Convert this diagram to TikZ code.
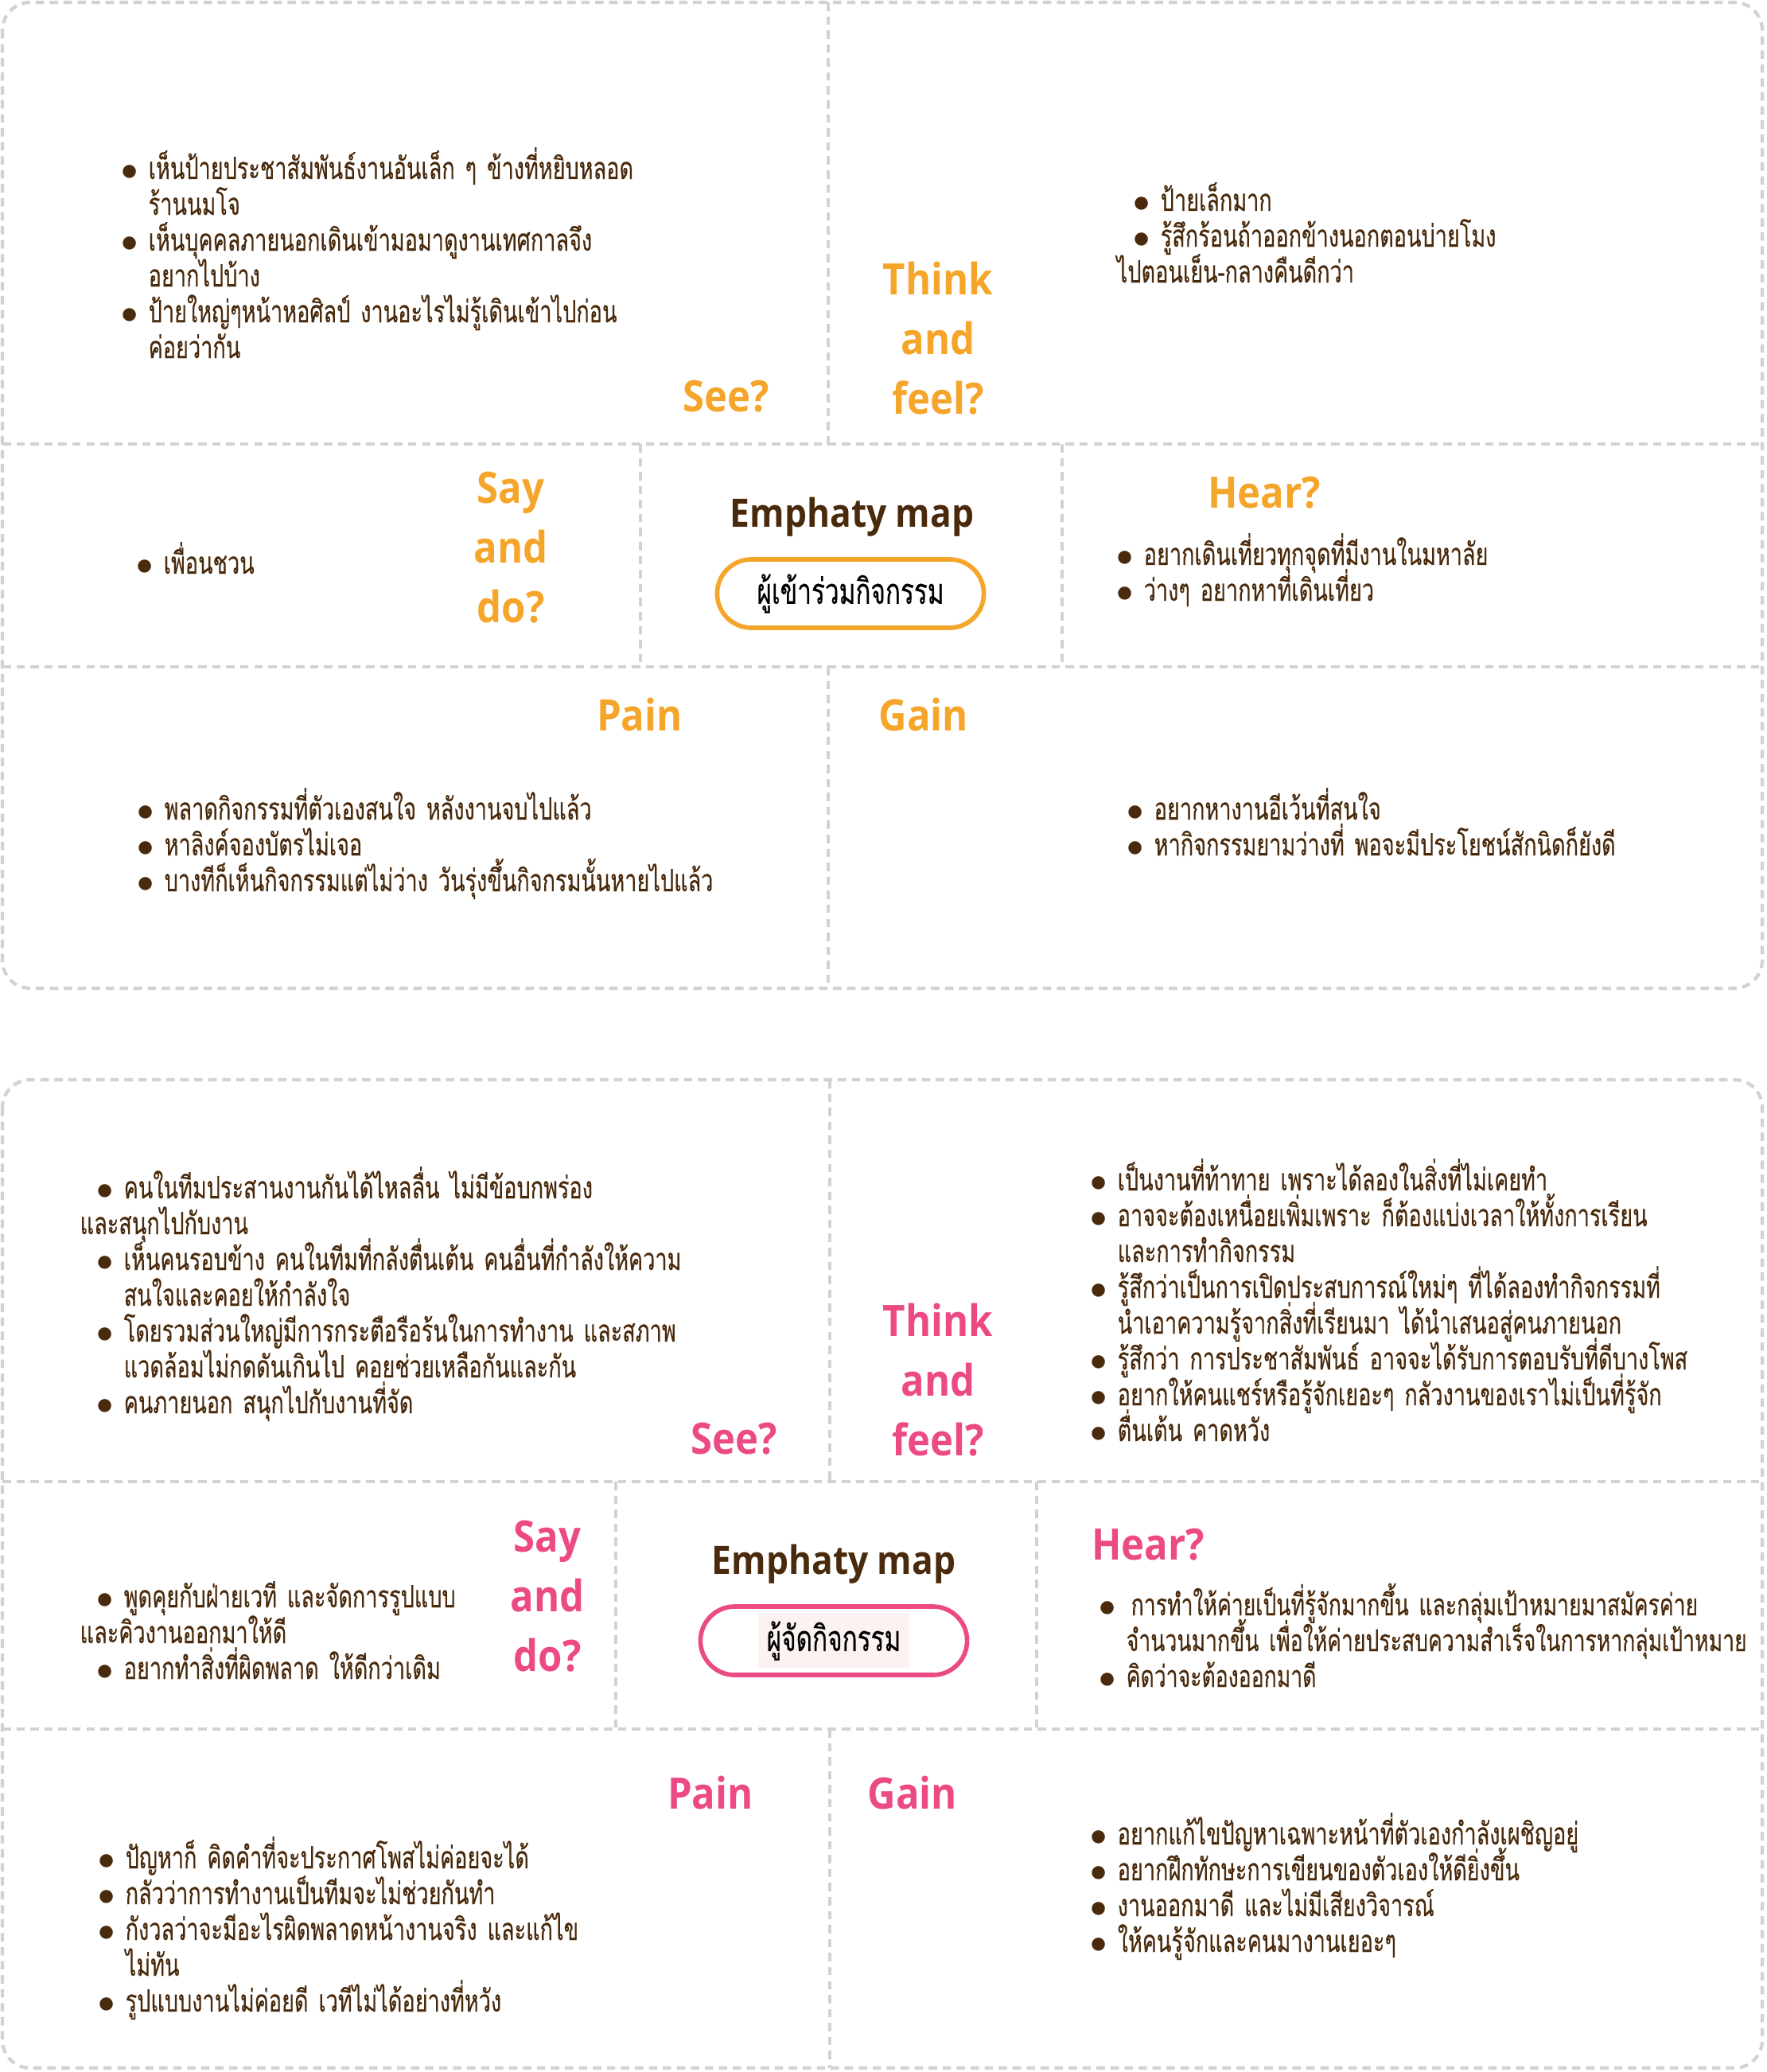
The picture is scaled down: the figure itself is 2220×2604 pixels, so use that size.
\documentclass[tikz,border=0pt]{standalone}
\usepackage{fontspec}
\usepackage{graphicx}
\usepackage{tikz}
\usetikzlibrary{positioning}
\usepackage{xcolor}
\definecolor{cocoa}{HTML}{4A2A0C}
\definecolor{amber}{HTML}{F5A52A}
\definecolor{rose}{HTML}{EC4A84}
\definecolor{blush}{HTML}{FDF2F2}
\definecolor{mist}{HTML}{D2D2D2}
\newfontfamily\thaifont[Script=Thai,FakeStretch=0.7,FakeBold=0.3]{Loma}
\newfontfamily\headfont[FakeStretch=0.9]{Open Sans}
\newcommand{\itembul}{\makebox[0.34cm][l]{\raisebox{-0.3pt}{\scalebox{1.1}{$\bullet$}}}}
\newcommand{\itemcont}{\hspace*{0.34cm}}
\newcommand{\itemshift}{\hspace*{0.21cm}}
\setlength{\lineskiplimit}{-30pt}
\setlength{\normallineskiplimit}{-30pt}

\begin{document}
\begin{tikzpicture}[x=0.01cm, y=-0.01cm,
    frame/.style={draw=mist, line width=1.2pt, dash pattern=on 3pt off 2pt},
    body/.style={font=\thaifont\fontsize{11pt}{12.8pt}\selectfont,
        execute at begin node={\setlength{\lineskiplimit}{-30pt}},
        text=cocoa, align=left, text width=14cm, inner sep=0pt, anchor=base west},
    head/.style={font=\headfont\bfseries\fontsize{15.5pt}{21.3pt}\selectfont,
        text=#1, align=center, inner sep=0pt},
    maptitle/.style={font=\headfont\bfseries\fontsize{14pt}{16pt}\selectfont, text=cocoa, inner sep=0pt},
    pill/.style={draw=#1, line width=1.6pt, rounded corners=0.43cm, minimum width=3.35cm,
        minimum height=0.86cm, inner sep=0pt, font=\thaifont\fontsize{12.8pt}{14pt}\selectfont}]
    \useasboundingbox (0,0) rectangle (2220,2604);

    % participant map
    \draw[frame, rounded corners=0.35cm] (3,3) rectangle (2215,1242);
    \draw[frame] (1041,3) -- (1041,558) (3,558) -- (2215,558)
        (805,558) -- (805,838) (1335,558) -- (1335,838)
        (3,838) -- (2215,838) (1041,838) -- (1041,1242);

    \node[head=amber] (seeA) at (913,498) {See?};
    \node[head=amber] (thinkA) at (1179,425) {Think\\and\\feel?};
    \node[head=amber] (sayA) at (642,688) {Say\\and\\do?};
    \node[head=amber] (hearA) at (1589,619) {Hear?};
    \node[head=amber] (painA) at (804,898) {Pain};
    \node[head=amber] (gainA) at (1161,898) {Gain};
    \node[maptitle] (mapA) at (1071,650) {Emphaty map};
    \node[pill=amber] (roleA) at (1069,746) {ผู้เข้าร่วมกิจกรรม};

    \node[body] (seeTxtA) at (152,225) {\itembul เห็นป้ายประชาสัมพันธ์งานอันเล็ก ๆ ข้างที่หยิบหลอด\\
        \itemcont ร้านนมโจ\\
        \itembul เห็นบุคคลภายนอกเดินเข้ามอมาดูงานเทศกาลจึง\\
        \itemcont อยากไปบ้าง\\
        \itembul ป้ายใหญ่ๆหน้าหอศิลป์ งานอะไรไม่รู้เดินเข้าไปก่อน\\
        \itemcont ค่อยว่ากัน};
    \node[body] (thinkTxtA) at (1403,265) {\itemshift\itembul ป้ายเล็กมาก\\
        \itemshift\itembul รู้สึกร้อนถ้าออกข้างนอกตอนบ่ายโมง\\
        ไปตอนเย็น-กลางคืนดีกว่า};
    \node[body] (sayTxtA) at (171,721) {\itembul เพื่อนชวน};
    \node[body] (hearTxtA) at (1403,710) {\itembul อยากเดินเที่ยวทุกจุดที่มีงานในมหาลัย\\
        \itembul ว่างๆ อยากหาที่เดินเที่ยว};
    \node[body] (painTxtA) at (172,1030) {\itembul พลาดกิจกรรมที่ตัวเองสนใจ หลังงานจบไปแล้ว\\
        \itembul หาลิงค์จองบัตรไม่เจอ\\
        \itembul บางทีก็เห็นกิจกรรมแต่ไม่ว่าง วันรุ่งขึ้นกิจกรมนั้นหายไปแล้ว};
    \node[body] (gainTxtA) at (1416,1030) {\itembul อยากหางานอีเว้นที่สนใจ\\
        \itembul หากิจกรรมยามว่างที่ พอจะมีประโยชน์สักนิดก็ยังดี};

    % organiser map
    \draw[frame, rounded corners=0.35cm] (3,1357) rectangle (2215,2599);
    \draw[frame] (1043,1357) -- (1043,1862) (3,1862) -- (2215,1862)
        (774,1862) -- (774,2173) (1303,1862) -- (1303,2173)
        (3,2173) -- (2215,2173) (1043,2173) -- (1043,2599);

    \node[head=rose] (seeB) at (923,1808) {See?};
    \node[head=rose] (thinkB) at (1179,1734) {Think\\and\\feel?};
    \node[head=rose] (sayB) at (688,2006) {Say\\and\\do?};
    \node[head=rose] (hearB) at (1443,1941) {Hear?};
    \node[head=rose] (painB) at (893,2253) {Pain};
    \node[head=rose] (gainB) at (1147,2253) {Gain};
    \node[maptitle] (mapB) at (1048,1966) {Emphaty map};
    \node[pill=rose] (roleB) at (1048,2062) {\setlength{\fboxsep}{3pt}\colorbox{blush}{ผู้จัดกิจกรรม}};

    \node[body] (seeTxtB) at (100,1506) {\itemshift\itembul คนในทีมประสานงานกันได้ไหลลื่น ไม่มีข้อบกพร่อง\\
        และสนุกไปกับงาน\\
        \itemshift\itembul เห็นคนรอบข้าง คนในทีมที่กลังตื่นเต้น คนอื่นที่กำลังให้ความ\\
        \itemshift\itemcont สนใจและคอยให้กำลังใจ\\
        \itemshift\itembul โดยรวมส่วนใหญ่มีการกระตือรือร้นในการทำงาน และสภาพ\\
        \itemshift\itemcont แวดล้อมไม่กดดันเกินไป คอยช่วยเหลือกันและกัน\\
        \itemshift\itembul คนภายนอก สนุกไปกับงานที่จัด};
    \node[body] (thinkTxtB) at (1370,1496) {\itembul เป็นงานที่ท้าทาย เพราะได้ลองในสิ่งที่ไม่เคยทำ\\
        \itembul อาจจะต้องเหนื่อยเพิ่มเพราะ ก็ต้องแบ่งเวลาให้ทั้งการเรียน\\
        \itemcont และการทำกิจกรรม\\
        \itembul รู้สึกว่าเป็นการเปิดประสบการณ์ใหม่ๆ ที่ได้ลองทำกิจกรรมที่\\
        \itemcont นำเอาความรู้จากสิ่งที่เรียนมา ได้นำเสนอสู่คนภายนอก\\
        \itembul รู้สึกว่า การประชาสัมพันธ์ อาจจะได้รับการตอบรับที่ดีบางโพส\\
        \itembul อยากให้คนแชร์หรือรู้จักเยอะๆ กลัวงานของเราไม่เป็นที่รู้จัก\\
        \itembul ตื่นเต้น คาดหวัง};
    \node[body] (sayTxtB) at (100,2020) {\itemshift\itembul พูดคุยกับฝ่ายเวที และจัดการรูปแบบ\\
        และคิวงานออกมาให้ดี\\
        \itemshift\itembul อยากทำสิ่งที่ผิดพลาด ให้ดีกว่าเดิม};
    \node[body, font=\thaifont\fontsize{10.8pt}{12.8pt}\selectfont] (hearTxtB) at (1381,2030)
        {\itembul\hspace{0.06cm}การทำให้ค่ายเป็นที่รู้จักมากขึ้น และกลุ่มเป้าหมายมาสมัครค่าย\\
        \itemcont จำนวนมากขึ้น เพื่อให้ค่ายประสบความสำเร็จในการหากลุ่มเป้าหมาย\\
        \itembul คิดว่าจะต้องออกมาดี};
    \node[body] (painTxtB) at (123,2348) {\itembul ปัญหาก็ คิดคำที่จะประกาศโพสไม่ค่อยจะได้\\
        \itembul กลัวว่าการทำงานเป็นทีมจะไม่ช่วยกันทำ\\
        \itembul กังวลว่าจะมีอะไรผิดพลาดหน้างานจริง และแก้ไข\\
        \itemcont ไม่ทัน\\
        \itembul รูปแบบงานไม่ค่อยดี เวทีไม่ได้อย่างที่หวัง};
    \node[body] (gainTxtB) at (1370,2318) {\itembul อยากแก้ไขปัญหาเฉพาะหน้าที่ตัวเองกำลังเผชิญอยู่\\
        \itembul อยากฝึกทักษะการเขียนของตัวเองให้ดียิ่งขึ้น\\
        \itembul งานออกมาดี และไม่มีเสียงวิจารณ์\\
        \itembul ให้คนรู้จักและคนมางานเยอะๆ};
\end{tikzpicture}
\end{document}
